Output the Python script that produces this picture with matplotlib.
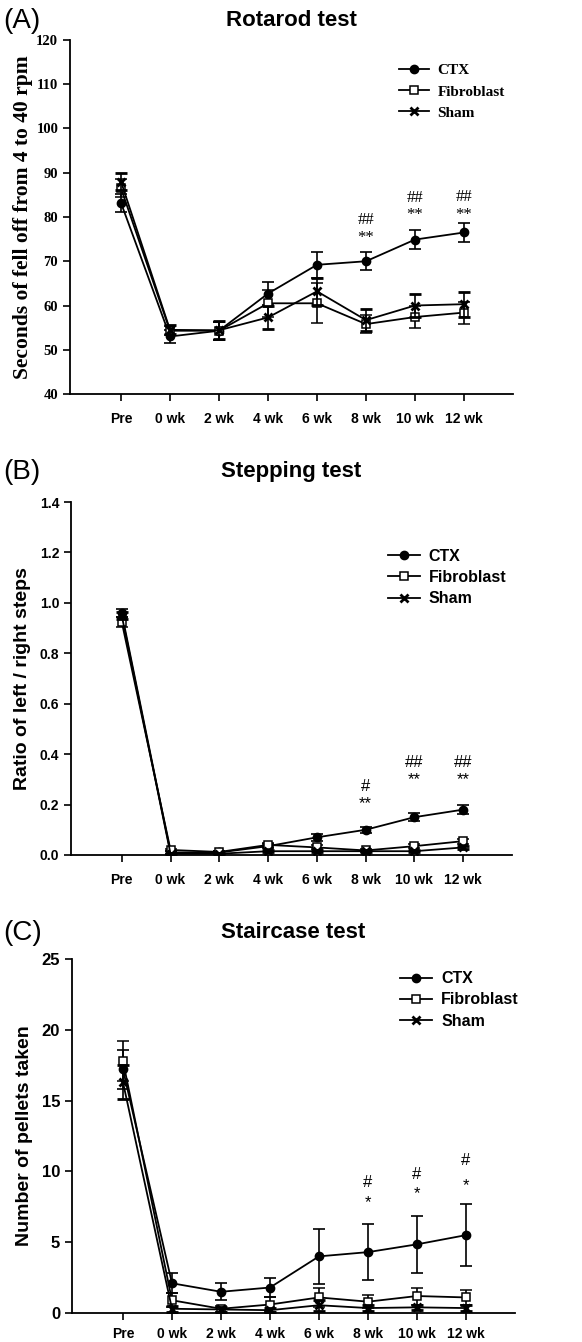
import matplotlib
matplotlib.use("Agg")
import matplotlib.pyplot as plt
from matplotlib.lines import Line2D
import numpy as np

categories = ["Pre", "0 wk", "2 wk", "4 wk", "6 wk", "8 wk", "10 wk", "12 wk"]
series_names = ["CTX", "Fibroblast", "Sham"]

# Panel A: Rotarod test (seconds)
rot_ctx = [83.2, 53.0, 54.3, 62.7, 69.2, 70.0, 74.9, 76.5]
rot_ctx_err = [2.0, 1.5, 2.0, 2.5, 3.0, 2.0, 2.1, 2.2]
rot_fib = [86.5, 54.3, 54.3, 60.5, 60.5, 55.8, 57.4, 58.4]
rot_fib_err = [2.0, 1.0, 2.0, 3.0, 4.5, 2.0, 2.5, 2.5]
rot_sham = [88.0, 54.5, 54.4, 57.3, 63.2, 56.7, 60.0, 60.3]
rot_sham_err = [2.0, 1.0, 2.0, 2.5, 3.0, 2.5, 2.5, 2.8]
rot_sig_idx = [5, 6, 7]
rot_sig_star = ["**", "**", "**"]
rot_sig_hash = ["##", "##", "##"]
rot_star_y = [75.3, 80.4, 80.5]
rot_hash_y = [79.4, 84.4, 84.6]

# Panel B: Stepping test (ratio)
step_ctx = [0.960, 0.010, 0.010, 0.035, 0.070, 0.100, 0.150, 0.180]
step_ctx_err = [0.015, 0.005, 0.005, 0.008, 0.015, 0.013, 0.015, 0.017]
step_fib = [0.925, 0.020, 0.012, 0.040, 0.030, 0.018, 0.035, 0.055]
step_fib_err = [0.020, 0.005, 0.005, 0.008, 0.008, 0.005, 0.008, 0.010]
step_sham = [0.950, 0.005, 0.005, 0.015, 0.015, 0.015, 0.015, 0.030]
step_sham_err = [0.015, 0.003, 0.003, 0.005, 0.005, 0.005, 0.005, 0.006]
step_sig_idx = [5, 6, 7]
step_sig_star = ["**", "**", "**"]
step_sig_hash = ["#", "##", "##"]
step_star_y = [0.205, 0.30, 0.30]
step_hash_y = [0.27, 0.365, 0.365]

# Panel C: Staircase test (pellets)
stair_ctx = [17.2, 2.1, 1.5, 1.8, 4.0, 4.3, 4.85, 5.5]
stair_ctx_err = [1.4, 0.7, 0.6, 0.7, 1.95, 2.0, 2.0, 2.2]
stair_fib = [17.8, 0.9, 0.3, 0.6, 1.1, 0.8, 1.2, 1.1]
stair_fib_err = [1.4, 0.5, 0.2, 0.5, 0.7, 0.45, 0.6, 0.5]
stair_sham = [16.3, 0.3, 0.25, 0.2, 0.55, 0.35, 0.4, 0.35]
stair_sham_err = [1.2, 0.2, 0.15, 0.15, 0.4, 0.2, 0.2, 0.2]
stair_sig_idx = [5, 6, 7]
stair_sig_star = ["*", "*", "*"]
stair_sig_hash = ["#", "#", "#"]
stair_star_y = [7.8, 8.45, 9.0]
stair_hash_y = [9.25, 9.8, 10.8]

SANS = "Liberation Sans"
SERIF = "Liberation Serif"

fig = plt.figure(figsize=(5.82, 13.42), dpi=100)

styles = [
    dict(marker="o", markersize=6, markerfacecolor="black", markeredgecolor="black"),
    dict(marker="s", markersize=5.5, markerfacecolor="white", markeredgecolor="black", markeredgewidth=1.1),
    dict(marker="x", markersize=6, markeredgecolor="black", markeredgewidth=2.0),
]


def panel(rect, title, letter, ylabel, ylim, yticks, ytick_fmt, tick_font, label_font,
          label_size, tick_size, data, sig, sig_font, sig_size, legend_font, legend_size,
          legend_anchor, title_y, labelpad, xpad, lspacing):
    ax = fig.add_axes(rect)
    x = np.arange(len(categories))
    order = [1, 2, 0]
    for k in order:
        mean, err = data[k]
        st = styles[k]
        ax.errorbar(x, mean, yerr=err, color="black", lw=1.3, elinewidth=1.2,
                    capsize=4, capthick=1.2, zorder=3 + k, **st)
    ax.set_xlim(-1.04, 8.0)
    ax.set_ylim(*ylim)
    ax.set_yticks(yticks)
    ax.set_yticklabels([ytick_fmt.format(v) for v in yticks], fontfamily=tick_font,
                       fontweight="bold", fontsize=tick_size)
    ax.set_xticks(x)
    ax.set_xticklabels(categories, fontfamily=SANS, fontweight="bold", fontsize=10)
    for s in ["top", "right"]:
        ax.spines[s].set_visible(False)
    for s in ["left", "bottom"]:
        ax.spines[s].set_linewidth(1.3)
    ax.tick_params(axis="both", direction="out", length=5, width=1.2)
    ax.tick_params(axis="x", pad=xpad)
    ax.set_ylabel(ylabel, fontfamily=label_font, fontweight="bold", fontsize=label_size,
                  labelpad=labelpad)
    idx, stars, hashes, sy, hy = sig
    for i, st, hs, a, b in zip(idx, stars, hashes, sy, hy):
        ax.text(i, a, st, ha="center", va="center", fontfamily=sig_font, fontsize=sig_size)
        ax.text(i, b, hs, ha="center", va="center", fontfamily=sig_font, fontsize=sig_size)
    handles = [Line2D([0], [0], color="black", lw=1.3, **styles[k]) for k in range(3)]
    ax.legend(handles, series_names, loc="upper left", bbox_to_anchor=legend_anchor,
              frameon=False, handlelength=2.0, handletextpad=0.55, labelspacing=lspacing,
              prop=dict(family=legend_font, weight="bold", size=legend_size),
              borderaxespad=0)
    fig.text(0.5 * (rect[0] + rect[0] + rect[2]) + 0.0, title_y, title, ha="center",
             va="center", fontfamily=SANS, fontweight="bold", fontsize=16)
    fig.text(0.006, title_y, letter, ha="left", va="center", fontfamily=SANS, fontsize=20)
    return ax


panel([0.1203, 0.7064, 0.7612, 0.2638], "Rotarod test", "(A)",
      "Seconds of fell off from 4 to 40 rpm", (40, 120), list(range(40, 121, 10)), "{:d}",
      SERIF, SERIF, 15.5, 10.5,
      [(rot_ctx, rot_ctx_err), (rot_fib, rot_fib_err), (rot_sham, rot_sham_err)],
      (rot_sig_idx, rot_sig_star, rot_sig_hash, rot_star_y, rot_hash_y), SERIF, 12,
      SERIF, 11, (0.728, 0.95), 1 - 21 / 1342, 2, 8, 0.48)

panel([0.1220, 0.3629, 0.7577, 0.2630], "Stepping test", "(B)",
      "Ratio of left / right steps", (0, 1.4), [0.0, 0.2, 0.4, 0.6, 0.8, 1.0, 1.2, 1.4],
      "{:.1f}", SANS, SANS, 14, 10,
      [(step_ctx, step_ctx_err), (step_fib, step_fib_err), (step_sham, step_sham_err)],
      (step_sig_idx, step_sig_star, step_sig_hash, step_star_y, step_hash_y), SANS, 12,
      SANS, 11.5, (0.704, 0.885), 1 - 472 / 1342, 6, 8, 0.38)

panel([0.1237, 0.0216, 0.7612, 0.2638], "Staircase test", "(C)",
      "Number of pellets taken", (0, 25), [0, 5, 10, 15, 20, 25], "{:d}",
      SANS, SANS, 14, 12,
      [(stair_ctx, stair_ctx_err), (stair_fib, stair_fib_err), (stair_sham, stair_sham_err)],
      (stair_sig_idx, stair_sig_star, stair_sig_hash, stair_star_y, stair_hash_y), SANS, 12,
      SANS, 11.5, (0.727, 0.983), 1 - 933 / 1342, 6, 5, 0.38)

fig.savefig("out.png", dpi=100)
